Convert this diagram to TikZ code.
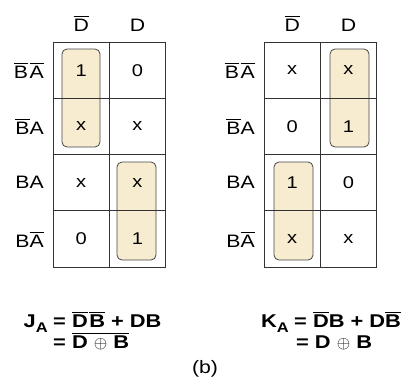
\documentclass[tikz,border=0pt]{standalone}
\usepackage{fontspec}
\setmainfont[FakeStretch=1.18]{Liberation Sans}
\usepackage{amsmath}
\usetikzlibrary{calc}
\definecolor{loopfill}{RGB}{247,236,208}
\definecolor{loopline}{RGB}{70,70,70}
\newcommand{\ovl}[1]{$\overline{\mbox{#1}}$}

\begin{document}
\begin{tikzpicture}[x=1pt,y=-1pt,
    lbl/.style={font=\fontsize{18}{18}\selectfont,inner sep=0pt},
    entry/.style={font=\fontsize{17}{17}\selectfont,inner sep=0pt},
    eqn/.style={font=\fontsize{18.5}{18.5}\selectfont\bfseries,inner sep=0pt},
    grp/.style={draw=loopline,fill=loopfill,rounded corners=5pt,line width=0.8pt},
    cell/.style={draw=black!80,line width=0.9pt}]
  \useasboundingbox (0,0) rectangle (405,388);
  % groupings (drawn under the grid lines)
  \draw[grp] (62,49) rectangle (100,147);
  \draw[grp] (117,162) rectangle (156,260);
  \draw[grp] (330,49) rectangle (369,147);
  \draw[grp] (274,162) rectangle (313,260);
  % the two maps
  \foreach \m/\ox in {J/53,K/264}{
    \foreach \r in {0,...,3}
      \foreach \c in {0,1}
        \draw[cell] ({\ox+56.3*\c},{42+56.3*\r}) rectangle ++(56.3,56.3);
    \node[lbl,anchor=base] (\m colDn) at ({\ox+28.2},31) {\ovl{D}};
    \node[lbl,anchor=base] (\m colD) at ({\ox+84.5},31) {D};
    \node[lbl,anchor=east] (\m row0) at ({\ox-9},70.2) {\ovl{B}\kern1.5pt\ovl{A}};
    \node[lbl,anchor=east] (\m row1) at ({\ox-9},126.5) {\ovl{B}A};
    \node[lbl,anchor=east] (\m row2) at ({\ox-9},182.8) {BA};
    \node[lbl,anchor=east] (\m row3) at ({\ox-9},239.1) {B\ovl{A}};
  }
  % entries of J_A map
  \foreach \v [count=\i from 0] in {1,x,x,0}
    \node[entry] (J0\i) at (81.2,{70.2+56.3*\i}) {\v};
  \foreach \v [count=\i from 0] in {0,x,x,1}
    \node[entry] (J1\i) at (137.5,{70.2+56.3*\i}) {\v};
  % entries of K_A map
  \foreach \v [count=\i from 0] in {x,0,1,x}
    \node[entry] (K0\i) at (292.2,{70.2+56.3*\i}) {\v};
  \foreach \v [count=\i from 0] in {x,1,0,x}
    \node[entry] (K1\i) at (348.5,{70.2+56.3*\i}) {\v};
  % equations
  \node[eqn,anchor=base east] (jname) at (51,327) {J\raisebox{-5pt}{\fontsize{14}{14}\selectfont A}\,};
  \node[eqn,anchor=base west] (jline1) at (53,327) {=\ \ovl{D}\kern1.5pt\ovl{B}\ +\ DB};
  \node[eqn,anchor=base west] (jline2) at (53,348) {=\ $\overline{\mbox{D\ $\oplus$\ B}}$};
  \node[eqn,anchor=base east] (kname) at (292,327) {K\raisebox{-5pt}{\fontsize{14}{14}\selectfont A}\,};
  \node[eqn,anchor=base west] (kline1) at (294,327) {=\ \ovl{D}B\ +\ D\ovl{B}};
  \node[eqn,anchor=base west] (kline2) at (296,348) {=\ D\ $\oplus$\ B};
  \node[lbl,anchor=base] (caption) at (205,373) {(b)};
\end{tikzpicture}
\end{document}
